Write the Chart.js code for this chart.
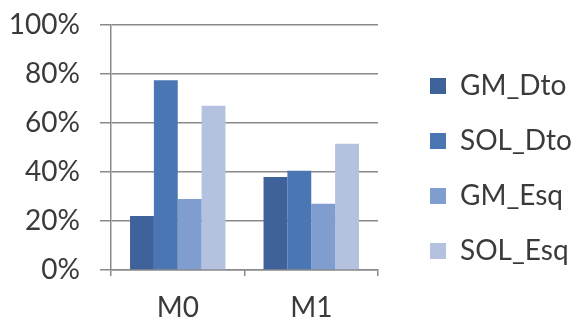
<!DOCTYPE html>
<html>
<head>
<meta charset="utf-8">
<script src="https://cdn.jsdelivr.net/npm/chart.js@4/dist/chart.umd.min.js"></script>
<style>
  html, body { margin: 0; padding: 0; background: #fff; }
  #wrap { width: 579px; height: 324px; }
</style>
</head>
<body>
<div id="wrap"><canvas id="chart" width="579" height="324"></canvas></div>
<script>
// --- data ---
const categories = ['M0', 'M1'];
const seriesNames = ['GM_Dto', 'SOL_Dto', 'GM_Esq', 'SOL_Esq'];
const gmDto  = [22, 38];
const solDto = [77.5, 40.5];
const gmEsq  = [29, 27];
const solEsq = [67, 51.5];
const yTicks = [0, 20, 40, 60, 80, 100];

const colors = ['#3e6299', '#4a77b4', '#7f9dcf', '#b4c2df'];
const gridCol = '#8a8a8a';
const textCol = '#3a3a3a';

const plotRight = 378;     // where the x axis ends
const legendBoxX = 430;    // left edge of the legend squares
const legendPad = 27;
const legendShiftY = -6;

// put the legend where the original has it (a bit away from the plot)
const placeLegend = {
  id: 'placeLegend',
  afterLayout(chart) {
    const lg = chart.legend;
    if (!lg) return;
    const w = lg.width;
    lg.left = legendBoxX - legendPad;
    lg.right = lg.left + w;
    lg.top += legendShiftY; lg.bottom += legendShiftY;
  }
};

// labels may stick out of the plot area, like in the original
function noOverflow(s) { s.paddingTop = 0; s.paddingBottom = 0; s.paddingLeft = 0; s.paddingRight = 0; }

const values = [gmDto, solDto, gmEsq, solEsq];

new Chart(document.getElementById('chart'), {
  type: 'bar',
  data: {
    labels: categories,
    datasets: seriesNames.map((name, i) => ({
      label: name,
      data: values[i],
      backgroundColor: colors[i],
      borderWidth: 0,
      categoryPercentage: 0.715,
      barPercentage: 1.0
    }))
  },
  options: {
    responsive: false,
    animation: false,
    devicePixelRatio: 1,
    layout: { padding: { top: 25, left: 0, right: 0, bottom: 0 } },
    font: { family: 'Lato', size: 28 },
    plugins: {
      tooltip: { enabled: false },
      legend: {
        position: 'right',
        maxWidth: 300,
        labels: {
          boxWidth: 16,
          boxHeight: 16,
          padding: legendPad,
          color: textCol,
          font: { family: 'Lato', size: 28 }
        }
      }
    },
    scales: {
      x: {
        offset: true,
        grid: { display: true, drawOnChartArea: false, drawTicks: true, tickLength: 6, color: gridCol, lineWidth: 1.5, offset: true },
        border: { display: true, color: gridCol, width: 1.5 },
        ticks: { color: textCol, padding: 15, font: { family: 'Lato', size: 28 } },
        afterFit(s) { s.height = 54; noOverflow(s); }
      },
      y: {
        min: 0,
        max: 100,
        afterBuildTicks(s) { s.ticks = yTicks.map(v => ({ value: v })); },
        grid: { color: gridCol, lineWidth: 1.5, tickLength: 11 },
        border: { display: true, color: gridCol, width: 1.5 },
        ticks: {
          color: textCol,
          padding: 20,
          font: { family: 'Lato', size: 28 },
          callback: v => v + '%'
        },
        afterFit(s) { s.width = 111; noOverflow(s); }
      },
      // empty spacer between plot and legend
      gap: {
        type: 'linear',
        position: 'right',
        display: true,
        grid: { display: false, drawTicks: false },
        border: { display: false },
        ticks: { display: false },
        afterFit(s) { s.width = Math.max(0, (579 - plotRight) - s.chart.legend.width); noOverflow(s); }
      }
    }
  },
  plugins: [placeLegend]
});
</script>
</body>
</html>
